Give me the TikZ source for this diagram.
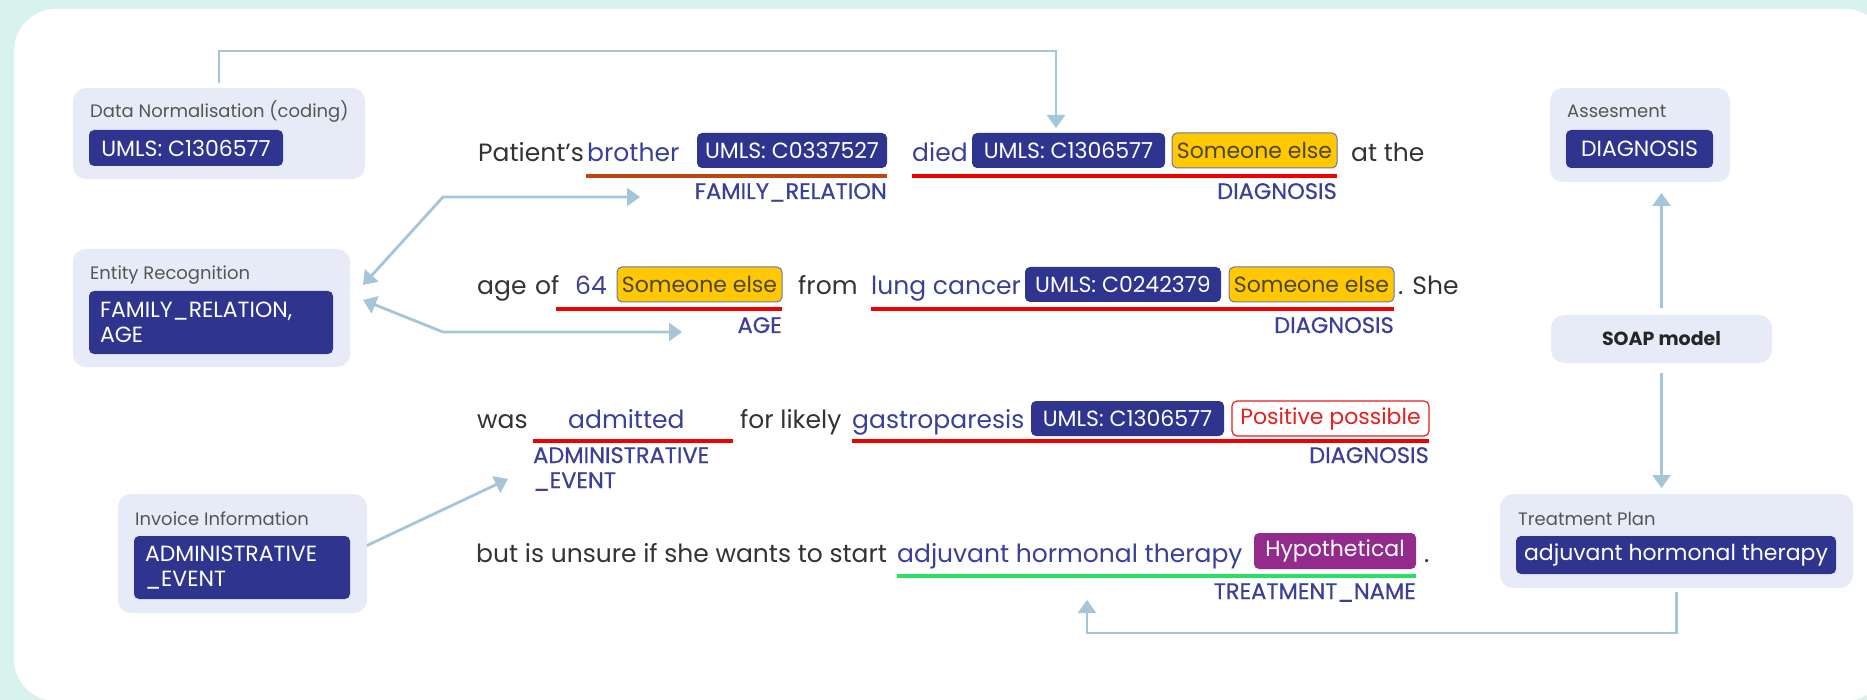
\documentclass[tikz,border=0pt]{standalone}
\usepackage{fontspec}
\setmainfont{Poppins}
\newfontfamily\labfont{Poppins}[FakeBold=0.6]
\usetikzlibrary{arrows.meta,calc}
\definecolor{mint}{RGB}{216,243,238}
\definecolor{panelbg}{RGB}{230,235,247}
\definecolor{navy}{RGB}{47,53,143}
\definecolor{ent}{RGB}{58,63,152}
\definecolor{txt}{RGB}{51,51,51}
\definecolor{ttlc}{RGB}{85,85,85}
\definecolor{ylw}{RGB}{255,200,0}
\definecolor{ylwbd}{RGB}{110,115,170}
\definecolor{ylwtx}{RGB}{75,70,55}
\definecolor{redul}{RGB}{240,0,0}
\definecolor{brownul}{RGB}{190,72,16}
\definecolor{greenul}{RGB}{40,224,100}
\definecolor{purp}{RGB}{146,43,140}
\definecolor{posred}{RGB}{232,30,30}
\definecolor{conncol}{RGB}{165,197,216}
% box by corners: style, name, x1, y1, x2, y2, text
\newcommand{\boxat}[7]{%
  \pgfmathsetmacro{\bxX}{(#3+#5)/2}\pgfmathsetmacro{\bxY}{(#4+#6)/2}%
  \pgfmathsetmacro{\bxW}{#5-#3}\pgfmathsetmacro{\bxH}{#6-#4}%
  \node[#1, minimum width=\bxW pt, minimum height=\bxH pt] (#2) at (\bxX,\bxY) {#7};}
\begin{document}
\begin{tikzpicture}[x=1pt,y=-1pt,
  >={Triangle[width=18pt,length=13pt]},
  panel/.style={fill=panelbg, rounded corners=13pt, inner sep=0pt, outer sep=0pt},
  chipbox/.style={fill=navy, rounded corners=5pt, text=white, inner sep=0pt, outer sep=0pt, font=\fontsize{22}{25}\selectfont},
  ychip/.style={fill=ylw, draw=ylwbd, line width=1pt, rounded corners=5pt, text=ylwtx, inner sep=0pt, outer sep=0pt, font=\fontsize{22}{25}\selectfont},
  pchip/.style={fill=white, draw=posred, line width=1.2pt, rounded corners=5pt, text=posred, inner sep=0pt, outer sep=0pt, font=\fontsize{22}{25}\selectfont},
  hchip/.style={fill=purp, rounded corners=5pt, text=white, inner sep=0pt, outer sep=0pt, font=\fontsize{22}{25}\selectfont},
  word/.style={anchor=base west, inner sep=0pt, text=txt, font=\fontsize{25}{30}\selectfont},
  entw/.style={word, text=ent},
  lab/.style={anchor=base east, inner sep=0pt, text=ent, font=\labfont\fontsize{22.5}{25}\selectfont},
  labw/.style={lab, anchor=base west},
  ttl/.style={anchor=base west, inner sep=0pt, text=ttlc, font=\fontsize{18}{22}\selectfont},
  ul/.style={line width=3.5pt},
  conn/.style={draw=conncol, line width=2.8pt}
]
\useasboundingbox (0,0) rectangle (1867,700);
\fill[mint] (0,0) rectangle (1867,700);
\begin{scope}
  \clip (0,0) rectangle (1867,700);
  \fill[white, rounded corners=42pt] (14,9) rectangle (1887,701);
\end{scope}

% ---------- side panels ----------
\boxat{panel}{dn}{73}{88}{365}{179}{}
\node[ttl] (dnt) at (90,118) {Data Normalisation (coding)};
\boxat{chipbox}{dnc}{89}{130}{283}{166}{UMLS: C1306577}

\boxat{panel}{er}{73}{249}{350}{367}{}
\node[ttl] (ert) at (90,280) {Entity Recognition};
\boxat{chipbox, text width=222pt, align=left}{erc}{89}{291}{333}{354}{FAMILY\_RELATION,\\AGE}

\boxat{panel}{inv}{118}{494}{367}{613}{}
\node[ttl] (invt) at (135,525) {Invoice Information};
\boxat{chipbox, text width=194pt, align=left}{invc}{134}{536}{350}{599}{ADMINISTRATIVE\\\_EVENT}

\boxat{panel}{ass}{1550}{88}{1730}{182}{}
\node[ttl] (asst) at (1567,118) {Assesment};
\boxat{chipbox}{assc}{1566}{130}{1713}{168}{DIAGNOSIS}

\boxat{panel, font=\bfseries\fontsize{19}{22}\selectfont, text=black!85}{soap}{1551}{315}{1772}{363}{SOAP model}

\boxat{panel}{tp}{1500}{494}{1853}{588}{}
\node[ttl] (tpt) at (1518,525) {Treatment Plan};
\boxat{chipbox}{tpc}{1516}{536}{1836}{574}{adjuvant hormonal therapy}

% ---------- line 1 ----------
\node[word] (w11) at (478,162) {Patient’s};
\node[entw] (e11) at (587,162) {brother};
\boxat{chipbox}{c11}{697}{133}{887}{168}{UMLS: C0337527}
\node[entw] (e12) at (912,162) {died};
\boxat{chipbox}{c12}{972}{133}{1165}{168}{UMLS: C1306577}
\boxat{ychip}{y11}{1172}{133}{1337}{168}{Someone else}
\node[word] (w12) at (1351,162) {at the};
\draw[ul, brownul] (586,176) -- (887,176);
\draw[ul, redul] (912,176) -- (1337,176);
\node[lab] (l11) at (887,199) {FAMILY\_RELATION};
\node[lab] (l12) at (1337,199) {DIAGNOSIS};

% ---------- line 2 ----------
\node[word] (w21) at (477,295) {age};
\node[word] (w22) at (535,295) {of};
\node[entw] (e21) at (575,295) {64};
\boxat{ychip}{y21}{617}{267}{782}{302}{Someone else}
\node[word] (w23) at (798,295) {from};
\node[entw] (e22) at (871,295) {lung cancer};
\boxat{chipbox}{c21}{1025}{267}{1221}{302}{UMLS: C0242379}
\boxat{ychip}{y22}{1229}{267}{1394}{302}{Someone else}
\node[word] (w24) at (1398,295) {. She};
\draw[ul, redul] (556,309) -- (782,309);
\draw[ul, redul] (871,309) -- (1394,309);
\node[lab] (l21) at (782,333) {AGE};
\node[lab] (l22) at (1394,333) {DIAGNOSIS};

% ---------- line 3 ----------
\node[word] (w31) at (477,428) {was};
\node[entw] (e31) at (568,428) {admitted};
\node[word] (w32) at (740,428) {for likely};
\node[entw] (e32) at (852,428) {gastroparesis};
\boxat{chipbox}{c31}{1031}{401}{1224}{436}{UMLS: C1306577}
\boxat{pchip}{p31}{1232}{401}{1429}{436}{Positive possible}
\draw[ul, redul] (533,441) -- (733,441);
\draw[ul, redul] (852,441) -- (1429,441);
\node[labw] (l31) at (533,463) {ADMINISTRATIVE};
\node[labw] (l32) at (533,488) {\_EVENT};
\node[lab] (l33) at (1429,463) {DIAGNOSIS};

% ---------- line 4 ----------
\node[word] (w41) at (476,562) {but is unsure if she wants to start};
\node[entw] (e41) at (897,562) {adjuvant hormonal therapy};
\boxat{hchip}{h41}{1254}{533}{1416}{569}{Hypothetical}
\node[word] (w42) at (1424,562) {.};
\draw[ul, greenul] (897,576) -- (1416,576);
\node[lab] (l41) at (1416,599) {TREATMENT\_NAME};

% ---------- connectors ----------
\coordinate (t1) at (1056,128);
\draw[conn, ->, shorten <=5pt] (dn.north) -- (dn.north |- 0,51) -| (t1);

\coordinate (a1) at (640,197);
\coordinate (a2) at (682,332);
\draw[conn, <->] ($(er.east)+(13,-23)$) -- (443,197) -- (a1);
\draw[conn, <->] ($(er.east)+(13,-8)$) -- (443,332) -- (a2);

\coordinate (a3) at (508,479);
\draw[conn, ->] ($(inv.east)+(0,-8)$) -- (a3);

\draw[conn, ->, shorten <=7pt, shorten >=11pt] (soap.north) -- (soap.north |- ass.south);
\draw[conn, ->, shorten <=10pt, shorten >=6pt] (soap.south) -- (soap.south |- tp.north);

\coordinate (t4) at (1087,600);
\draw[conn, ->, shorten <=4pt] (tp.south) -- (tp.south |- 0,633) -| (t4);
\end{tikzpicture}
\end{document}
